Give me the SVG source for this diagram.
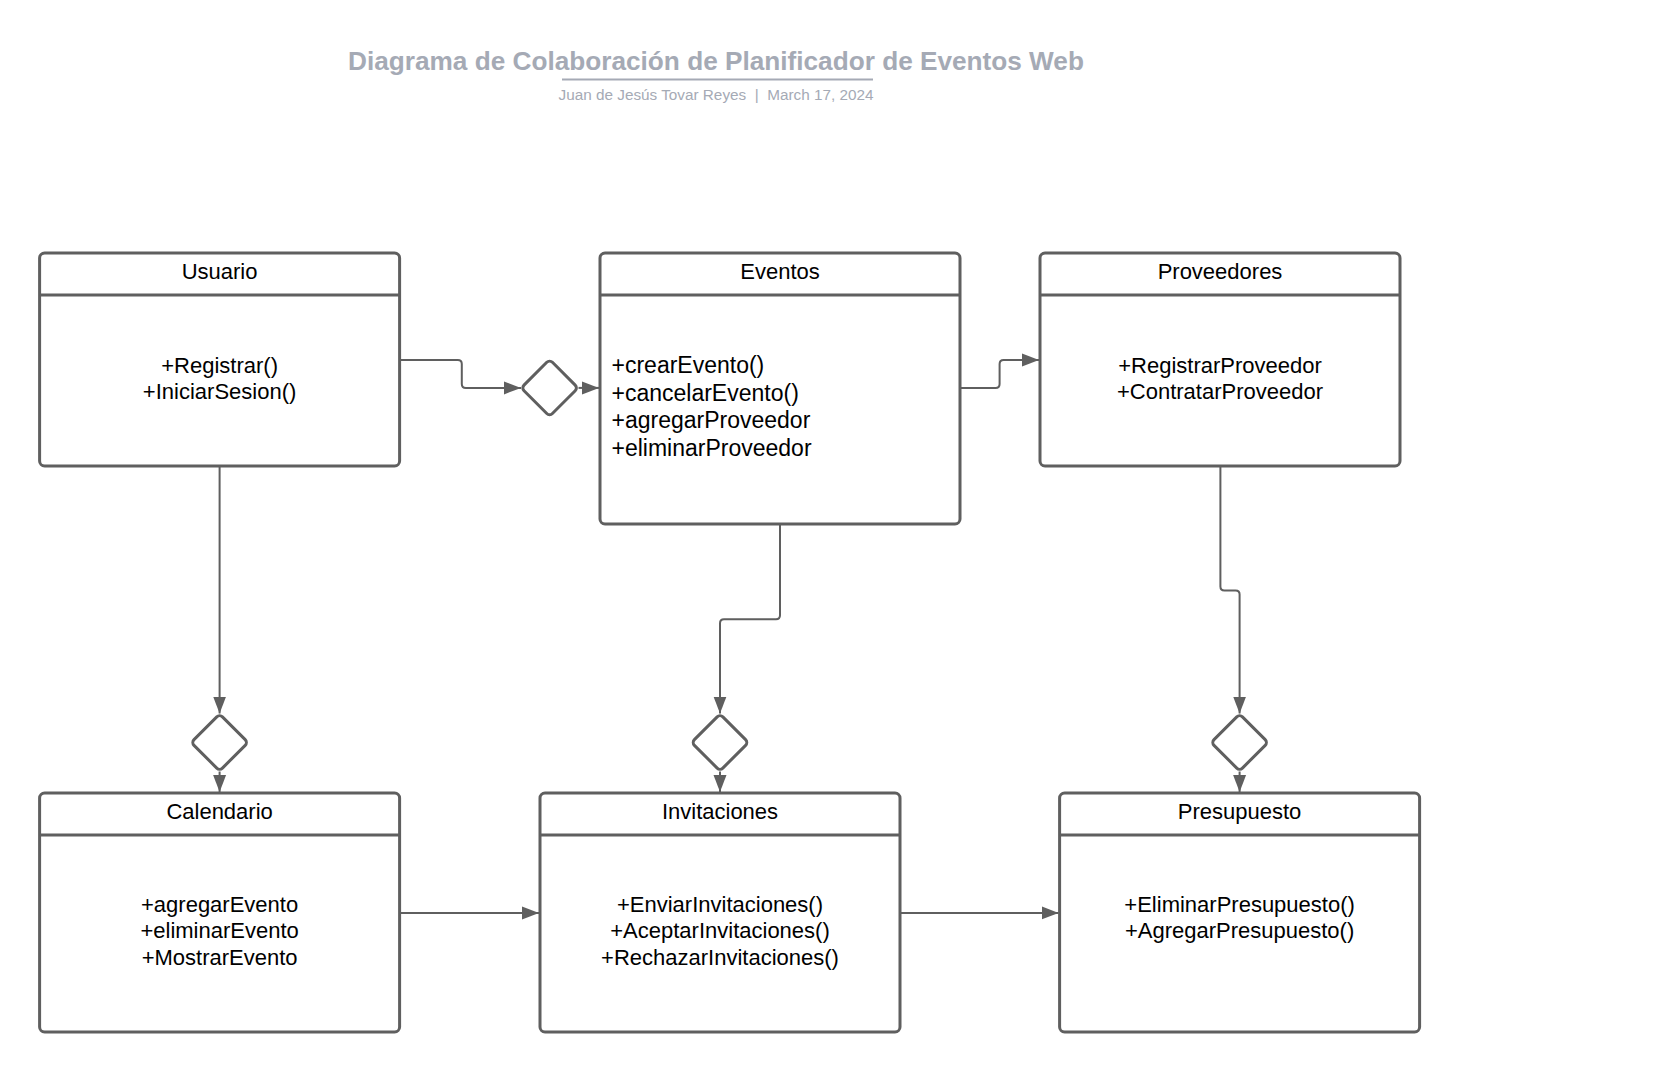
<svg xmlns="http://www.w3.org/2000/svg" width="1680" height="1073" viewBox="0 0 1680 1073">
<style>
.box{fill:#fff;stroke:#5f5f5f;stroke-width:3}
.div{stroke:#5f5f5f;stroke-width:3}
.dia{fill:#fff;stroke:#5f5f5f;stroke-width:3}
.con{fill:none;stroke:#5f5f5f;stroke-width:2}
.hd{font-family:"Liberation Sans",Arial,sans-serif;font-size:22px;fill:#000;text-anchor:middle}
.m{font-family:"Liberation Sans",Arial,sans-serif;font-size:22px;fill:#000;text-anchor:middle}
.ml{font-family:"Liberation Sans",Arial,sans-serif;font-size:23px;fill:#000}
.title{font-family:"Liberation Sans",Arial,sans-serif;font-size:26.2px;font-weight:bold;fill:#a5aab5;text-anchor:middle}
.sub{font-family:"Liberation Sans",Arial,sans-serif;font-size:15.3px;fill:#a5aab5;text-anchor:middle}
</style>
<defs>
<marker id="arr" markerUnits="userSpaceOnUse" markerWidth="17" markerHeight="14" refX="17" refY="7" orient="auto">
<path d="M0,0.5 L17,7 L0,13.5 z" fill="#5f5f5f"/>
</marker>
</defs>
<rect width="1680" height="1073" fill="#fff"/>
<g id="title">
<text class="title" x="716" y="70">Diagrama de Colaboración de Planificador de Eventos Web</text>
<line x1="562" y1="79.5" x2="873" y2="79.5" stroke="#a5aab5" stroke-width="2"/>
<text class="sub" x="716" y="99.5" xml:space="preserve">Juan de Jesús Tovar Reyes  |  March 17, 2024</text>
</g>
<g id="connectors">
<path class="con" marker-end="url(#arr)" d="M399.6 360 H457.8 Q461.8 360 461.8 364 V383.9 Q461.8 387.9 465.8 387.9 H521"/>
<path class="con" marker-end="url(#arr)" d="M578.5 387.9 H599"/>
<path class="con" marker-end="url(#arr)" d="M960 387.9 H995.6 Q999.6 387.9 999.6 383.9 V364 Q999.6 360 1003.6 360 H1039"/>
<path class="con" marker-end="url(#arr)" d="M219.6 466 V713.5"/>
<path class="con" marker-end="url(#arr)" d="M219.6 771.5 V792"/>
<path class="con" marker-end="url(#arr)" d="M780 524 V615.3 Q780 619.3 776 619.3 H724 Q720 619.3 720 623.3 V713.5"/>
<path class="con" marker-end="url(#arr)" d="M720 771.5 V792"/>
<path class="con" marker-end="url(#arr)" d="M1220.4 466 V586.4 Q1220.4 590.4 1224.4 590.4 H1235.6 Q1239.6 590.4 1239.6 594.4 V713.5"/>
<path class="con" marker-end="url(#arr)" d="M1239.6 771.5 V792"/>
<path class="con" marker-end="url(#arr)" d="M399.6 912.9 H539"/>
<path class="con" marker-end="url(#arr)" d="M900 912.9 H1058.6"/>
</g>
<g id="diamond1"><rect class="dia" x="529.5" y="367.8" width="40.2" height="40.2" rx="4" transform="rotate(45 549.6 387.9)"/></g>
<g id="diamond2"><rect class="dia" x="199.5" y="722.4" width="40.2" height="40.2" rx="4" transform="rotate(45 219.6 742.5)"/></g>
<g id="diamond3"><rect class="dia" x="699.9" y="722.4" width="40.2" height="40.2" rx="4" transform="rotate(45 720 742.5)"/></g>
<g id="diamond4"><rect class="dia" x="1219.5" y="722.4" width="40.2" height="40.2" rx="4" transform="rotate(45 1239.6 742.5)"/></g>
<g id="usuario">
<rect class="box" x="39.6" y="253" width="360" height="213" rx="5"/>
<line class="div" x1="39.6" y1="295" x2="399.6" y2="295"/>
<text class="hd" x="219.6" y="279">Usuario</text>
<text class="m" x="219.6" y="372.5">+Registrar()</text>
<text class="m" x="219.6" y="399">+IniciarSesion()</text>
</g>
<g id="eventos">
<rect class="box" x="600" y="253" width="360" height="271" rx="5"/>
<line class="div" x1="600" y1="295" x2="960" y2="295"/>
<text class="hd" x="780" y="279">Eventos</text>
<text class="ml" x="611.5" y="373">+crearEvento()</text>
<text class="ml" x="611.5" y="400.5">+cancelarEvento()</text>
<text class="ml" x="611.5" y="428">+agregarProveedor</text>
<text class="ml" x="611.5" y="455.5">+eliminarProveedor</text>
</g>
<g id="proveedores">
<rect class="box" x="1040" y="253" width="360" height="213" rx="5"/>
<line class="div" x1="1040" y1="295" x2="1400" y2="295"/>
<text class="hd" x="1220" y="279">Proveedores</text>
<text class="m" x="1220" y="372.5">+RegistrarProveedor</text>
<text class="m" x="1220" y="399">+ContratarProveedor</text>
</g>
<g id="calendario">
<rect class="box" x="39.6" y="793" width="360" height="239" rx="5"/>
<line class="div" x1="39.6" y1="835" x2="399.6" y2="835"/>
<text class="hd" x="219.6" y="819">Calendario</text>
<text class="m" x="219.6" y="911.5">+agregarEvento</text>
<text class="m" x="219.6" y="938">+eliminarEvento</text>
<text class="m" x="219.6" y="964.5">+MostrarEvento</text>
</g>
<g id="invitaciones">
<rect class="box" x="540" y="793" width="360" height="239" rx="5"/>
<line class="div" x1="540" y1="835" x2="900" y2="835"/>
<text class="hd" x="720" y="819">Invitaciones</text>
<text class="m" x="720" y="911.5">+EnviarInvitaciones()</text>
<text class="m" x="720" y="938">+AceptarInvitaciones()</text>
<text class="m" x="720" y="964.5">+RechazarInvitaciones()</text>
</g>
<g id="presupuesto">
<rect class="box" x="1059.6" y="793" width="360" height="239" rx="5"/>
<line class="div" x1="1059.6" y1="835" x2="1419.6" y2="835"/>
<text class="hd" x="1239.6" y="819">Presupuesto</text>
<text class="m" x="1239.6" y="911.5">+EliminarPresupuesto()</text>
<text class="m" x="1239.6" y="938">+AgregarPresupuesto()</text>
</g>
</svg>
